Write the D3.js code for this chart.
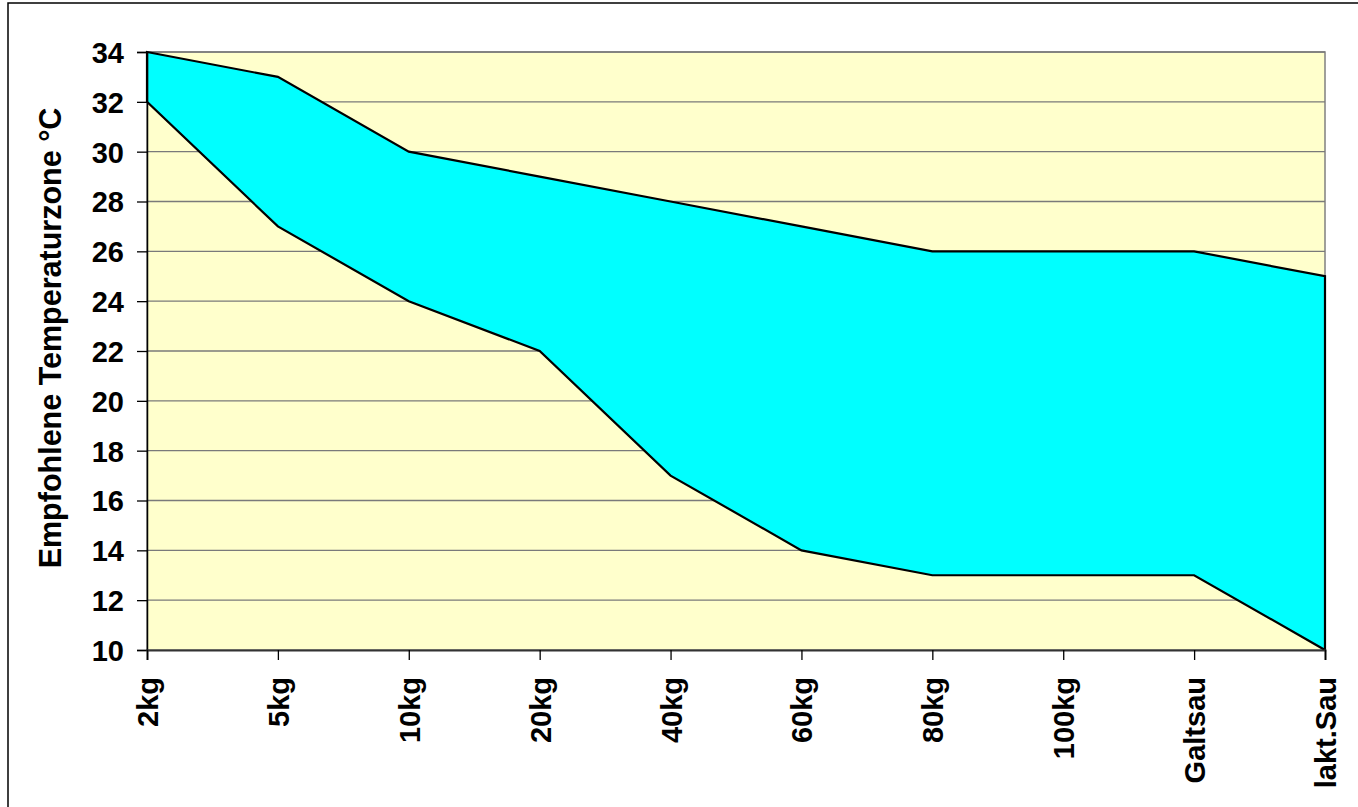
<!DOCTYPE html>
<html>
<head>
<meta charset="utf-8">
<script src="https://cdn.jsdelivr.net/npm/d3@7"></script>
<style>
  body { margin: 0; background: #fff; }
  text { font-family: Arial, "Liberation Sans", sans-serif; font-weight: bold; fill: #000; }
</style>
</head>
<body>
<div id="chart"></div>
<script>
const categories = ['2kg', '5kg', '10kg', '20kg', '40kg', '60kg', '80kg', '100kg', 'Galtsau', 'lakt.Sau'];
const upperTemp = [34, 33, 30, 29, 28, 27, 26, 26, 26, 25];
const lowerTemp = [32, 27, 24, 22, 17, 14, 13, 13, 13, 10];
const yTicks = [10, 12, 14, 16, 18, 20, 22, 24, 26, 28, 30, 32, 34];

const width = 1358, height = 807;
const plotLeft = 147, plotRight = 1325, plotTop = 52, plotBottom = 650;

const svg = d3.select('#chart').append('svg')
  .attr('width', width)
  .attr('height', height);

// outer frame (runs off the right and bottom edge)
svg.append('rect')
  .attr('x', 8).attr('y', 3)
  .attr('width', 1400).attr('height', 900)
  .attr('fill', 'none')
  .attr('stroke', '#000')
  .attr('stroke-width', 1.5);

const xScale = d3.scalePoint().domain(categories).range([plotLeft, plotRight]).padding(0);
const yScale = d3.scaleLinear().domain([10, 34]).range([plotBottom, plotTop]);

// plot background
svg.append('rect')
  .attr('x', plotLeft).attr('y', plotTop)
  .attr('width', plotRight - plotLeft).attr('height', plotBottom - plotTop)
  .attr('fill', '#FFFFCC')
  .attr('stroke', '#808080')
  .attr('stroke-width', 1.5);

// gridlines
svg.append('g')
  .selectAll('line')
  .data(yTicks.slice(1))
  .join('line')
  .attr('x1', plotLeft).attr('x2', plotRight)
  .attr('y1', d => yScale(d)).attr('y2', d => yScale(d))
  .attr('stroke', '#7a7a7a')
  .attr('stroke-width', 1.3);

const rows = categories.map((c, i) => ({ c: c, lo: lowerTemp[i], hi: upperTemp[i] }));

const area = d3.area()
  .x(d => xScale(d.c))
  .y0(d => yScale(d.lo))
  .y1(d => yScale(d.hi));

svg.append('path')
  .datum(rows)
  .attr('d', area)
  .attr('fill', '#00FFFF')
  .attr('stroke', '#000')
  .attr('stroke-width', 2.2)
  .attr('stroke-linejoin', 'miter');

// axes
const yAxis = d3.axisLeft(yScale).tickValues(yTicks).tickSize(10).tickPadding(13);
const xAxis = d3.axisBottom(xScale).tickSize(10).tickPadding(0);

const gy = svg.append('g')
  .attr('transform', `translate(${plotLeft},0)`)
  .call(yAxis);
gy.select('.domain').attr('stroke', '#000').attr('stroke-width', 1.5);
gy.selectAll('.tick line').attr('stroke', '#000').attr('stroke-width', 1.3);
gy.selectAll('.tick text')
  .style('font-size', '29px')
  .attr('dy', '0.36em');

const gx = svg.append('g')
  .attr('transform', `translate(0,${plotBottom})`)
  .call(xAxis);
gx.select('.domain').attr('stroke', '#333').attr('stroke-width', 2);
gx.selectAll('.tick line').attr('stroke', '#000').attr('stroke-width', 1.3);
gx.selectAll('.tick text')
  .style('font-size', '29px')
  .attr('text-anchor', 'end')
  .attr('transform', 'rotate(-90)')
  .attr('x', -27)
  .attr('y', 0)
  .attr('dy', '0.36em');

gy.selectAll('text').attr('fill', '#000');
gx.selectAll('text').attr('fill', '#000');

// y axis title
svg.append('text')
  .attr('transform', 'translate(50,338) rotate(-90)')
  .attr('text-anchor', 'middle')
  .attr('dy', '0.36em')
  .style('font-size', '30.5px')
  .text('Empfohlene Temperaturzone °C');
</script>
</body>
</html>
